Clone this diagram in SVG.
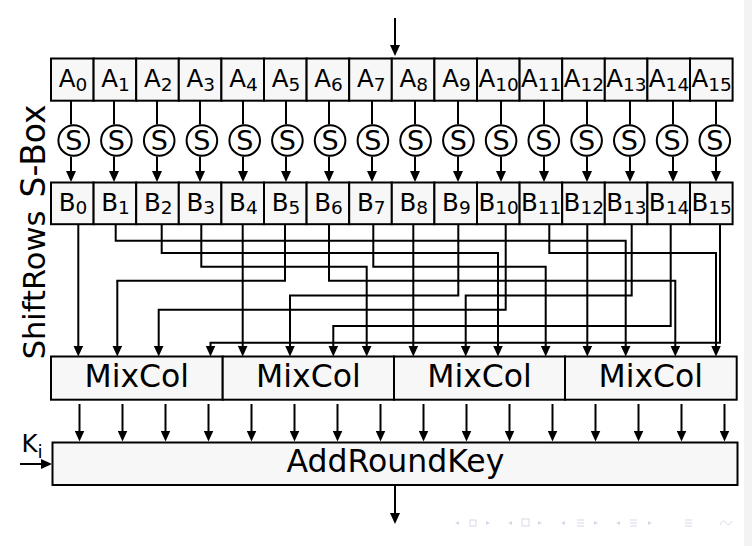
<svg xmlns="http://www.w3.org/2000/svg" width="752" height="546" viewBox="0 0 752 546">
<style>
.box{fill:#f7f7f7;stroke:#000;stroke-width:2}
.cir{fill:#fff;stroke:#000;stroke-width:2}
.ln{fill:none;stroke:#000;stroke-width:2}
.lbl{font-family:"DejaVu Sans",sans-serif;font-size:24.5px;text-anchor:middle;fill:#000}
.sub{font-size:18.5px}
.s{font-family:"DejaVu Sans",sans-serif;font-size:27px;text-anchor:middle;fill:#000}
.big{font-family:"DejaVu Sans",sans-serif;font-size:31.5px;text-anchor:middle;fill:#000}
.nav{fill:#d8d8ea}
</style>
<defs>
<marker id="ah" viewBox="0 0 11 10" refX="6" refY="5" markerWidth="11" markerHeight="10" markerUnits="userSpaceOnUse" orient="auto">
<path d="M0,0 L11,5 L0,10 z" fill="#000"/>
</marker>
</defs>
<rect x="0" y="0" width="752" height="546" fill="#fff"/>
<rect x="744" y="0" width="8" height="546" fill="#f3f3f3"/>

<text class="big" style="font-size:33px" transform="translate(45,151) rotate(-90)">S-Box</text>
<text class="big" style="font-size:30.5px" transform="translate(45,285) rotate(-90)">ShiftRows</text>

<g id="rowA">
<rect class="box" x="51" y="58.5" width="42.6" height="42.2"/>
<rect class="box" x="93.6" y="58.5" width="42.6" height="42.2"/>
<rect class="box" x="136.2" y="58.5" width="42.6" height="42.2"/>
<rect class="box" x="178.8" y="58.5" width="42.6" height="42.2"/>
<rect class="box" x="221.4" y="58.5" width="42.6" height="42.2"/>
<rect class="box" x="264" y="58.5" width="42.6" height="42.2"/>
<rect class="box" x="306.6" y="58.5" width="42.6" height="42.2"/>
<rect class="box" x="349.2" y="58.5" width="42.6" height="42.2"/>
<rect class="box" x="391.8" y="58.5" width="42.6" height="42.2"/>
<rect class="box" x="434.4" y="58.5" width="42.6" height="42.2"/>
<rect class="box" x="477" y="58.5" width="42.6" height="42.2"/>
<rect class="box" x="519.6" y="58.5" width="42.6" height="42.2"/>
<rect class="box" x="562.2" y="58.5" width="42.6" height="42.2"/>
<rect class="box" x="604.8" y="58.5" width="42.6" height="42.2"/>
<rect class="box" x="647.4" y="58.5" width="42.6" height="42.2"/>
<rect class="box" x="690" y="58.5" width="42.6" height="42.2"/>
<text class="lbl" x="73" y="87.3">A<tspan class="sub" dy="3.4">0</tspan></text>
<text class="lbl" x="115.6" y="87.3">A<tspan class="sub" dy="3.4">1</tspan></text>
<text class="lbl" x="158.2" y="87.3">A<tspan class="sub" dy="3.4">2</tspan></text>
<text class="lbl" x="200.8" y="87.3">A<tspan class="sub" dy="3.4">3</tspan></text>
<text class="lbl" x="243.4" y="87.3">A<tspan class="sub" dy="3.4">4</tspan></text>
<text class="lbl" x="286" y="87.3">A<tspan class="sub" dy="3.4">5</tspan></text>
<text class="lbl" x="328.6" y="87.3">A<tspan class="sub" dy="3.4">6</tspan></text>
<text class="lbl" x="371.2" y="87.3">A<tspan class="sub" dy="3.4">7</tspan></text>
<text class="lbl" x="413.8" y="87.3">A<tspan class="sub" dy="3.4">8</tspan></text>
<text class="lbl" x="456.4" y="87.3">A<tspan class="sub" dy="3.4">9</tspan></text>
<text class="lbl" x="498.6" y="87.3">A<tspan class="sub" dy="3.4">10</tspan></text>
<text class="lbl" x="541.2" y="87.3">A<tspan class="sub" dy="3.4">11</tspan></text>
<text class="lbl" x="583.8" y="87.3">A<tspan class="sub" dy="3.4">12</tspan></text>
<text class="lbl" x="626.4" y="87.3">A<tspan class="sub" dy="3.4">13</tspan></text>
<text class="lbl" x="669" y="87.3">A<tspan class="sub" dy="3.4">14</tspan></text>
<text class="lbl" x="711.6" y="87.3">A<tspan class="sub" dy="3.4">15</tspan></text>
</g>

<g id="rowB">
<rect class="box" x="51" y="182.5" width="42.6" height="41.7"/>
<rect class="box" x="93.6" y="182.5" width="42.6" height="41.7"/>
<rect class="box" x="136.2" y="182.5" width="42.6" height="41.7"/>
<rect class="box" x="178.8" y="182.5" width="42.6" height="41.7"/>
<rect class="box" x="221.4" y="182.5" width="42.6" height="41.7"/>
<rect class="box" x="264" y="182.5" width="42.6" height="41.7"/>
<rect class="box" x="306.6" y="182.5" width="42.6" height="41.7"/>
<rect class="box" x="349.2" y="182.5" width="42.6" height="41.7"/>
<rect class="box" x="391.8" y="182.5" width="42.6" height="41.7"/>
<rect class="box" x="434.4" y="182.5" width="42.6" height="41.7"/>
<rect class="box" x="477" y="182.5" width="42.6" height="41.7"/>
<rect class="box" x="519.6" y="182.5" width="42.6" height="41.7"/>
<rect class="box" x="562.2" y="182.5" width="42.6" height="41.7"/>
<rect class="box" x="604.8" y="182.5" width="42.6" height="41.7"/>
<rect class="box" x="647.4" y="182.5" width="42.6" height="41.7"/>
<rect class="box" x="690" y="182.5" width="42.6" height="41.7"/>
<text class="lbl" x="73" y="211">B<tspan class="sub" dy="3.4">0</tspan></text>
<text class="lbl" x="115.6" y="211">B<tspan class="sub" dy="3.4">1</tspan></text>
<text class="lbl" x="158.2" y="211">B<tspan class="sub" dy="3.4">2</tspan></text>
<text class="lbl" x="200.8" y="211">B<tspan class="sub" dy="3.4">3</tspan></text>
<text class="lbl" x="243.4" y="211">B<tspan class="sub" dy="3.4">4</tspan></text>
<text class="lbl" x="286" y="211">B<tspan class="sub" dy="3.4">5</tspan></text>
<text class="lbl" x="328.6" y="211">B<tspan class="sub" dy="3.4">6</tspan></text>
<text class="lbl" x="371.2" y="211">B<tspan class="sub" dy="3.4">7</tspan></text>
<text class="lbl" x="413.8" y="211">B<tspan class="sub" dy="3.4">8</tspan></text>
<text class="lbl" x="456.4" y="211">B<tspan class="sub" dy="3.4">9</tspan></text>
<text class="lbl" x="498.6" y="211">B<tspan class="sub" dy="3.4">10</tspan></text>
<text class="lbl" x="541.2" y="211">B<tspan class="sub" dy="3.4">11</tspan></text>
<text class="lbl" x="583.8" y="211">B<tspan class="sub" dy="3.4">12</tspan></text>
<text class="lbl" x="626.4" y="211">B<tspan class="sub" dy="3.4">13</tspan></text>
<text class="lbl" x="669" y="211">B<tspan class="sub" dy="3.4">14</tspan></text>
<text class="lbl" x="711.6" y="211">B<tspan class="sub" dy="3.4">15</tspan></text>
</g>

<g id="connectors">
<path class="ln" d="M395,18 V51" marker-end="url(#ah)"/>
<path class="ln" d="M71,100.7 V124.5 M114,100.7 V124.5 M157,100.7 V124.5 M200,100.7 V124.5 M243,100.7 V124.5 M286,100.7 V124.5 M329,100.7 V124.5 M372,100.7 V124.5 M415,100.7 V124.5 M458,100.7 V124.5 M501,100.7 V124.5 M544,100.7 V124.5 M587,100.7 V124.5 M630,100.7 V124.5 M673,100.7 V124.5 M716,100.7 V124.5"/>
<path class="ln" d="M71,156.5 V177" marker-end="url(#ah)"/>
<path class="ln" d="M114,156.5 V177" marker-end="url(#ah)"/>
<path class="ln" d="M157,156.5 V177" marker-end="url(#ah)"/>
<path class="ln" d="M200,156.5 V177" marker-end="url(#ah)"/>
<path class="ln" d="M243,156.5 V177" marker-end="url(#ah)"/>
<path class="ln" d="M286,156.5 V177" marker-end="url(#ah)"/>
<path class="ln" d="M329,156.5 V177" marker-end="url(#ah)"/>
<path class="ln" d="M372,156.5 V177" marker-end="url(#ah)"/>
<path class="ln" d="M415,156.5 V177" marker-end="url(#ah)"/>
<path class="ln" d="M458,156.5 V177" marker-end="url(#ah)"/>
<path class="ln" d="M501,156.5 V177" marker-end="url(#ah)"/>
<path class="ln" d="M544,156.5 V177" marker-end="url(#ah)"/>
<path class="ln" d="M587,156.5 V177" marker-end="url(#ah)"/>
<path class="ln" d="M630,156.5 V177" marker-end="url(#ah)"/>
<path class="ln" d="M673,156.5 V177" marker-end="url(#ah)"/>
<path class="ln" d="M716,156.5 V177" marker-end="url(#ah)"/>

<path class="ln" d="M78.3,224 V351.5" marker-end="url(#ah)"/>
<path class="ln" d="M242.7,224 V351.5" marker-end="url(#ah)"/>
<path class="ln" d="M413.3,224 V351.5" marker-end="url(#ah)"/>
<path class="ln" d="M587.3,224 V351.5" marker-end="url(#ah)"/>
<path class="ln" d="M115.7,224 V240.7 H625.7 V351.5" marker-end="url(#ah)"/>
<path class="ln" d="M161.7,224 V253 H498 V351.5" marker-end="url(#ah)"/>
<path class="ln" d="M201.3,224 V266.7 H366.7 V351.5" marker-end="url(#ah)"/>
<path class="ln" d="M285,224 V280.7 H117.3 V351.5" marker-end="url(#ah)"/>
<path class="ln" d="M329,224 V280.7 H675.3 V351.5" marker-end="url(#ah)"/>
<path class="ln" d="M373.3,224 V266.7 H545.7 V351.5" marker-end="url(#ah)"/>
<path class="ln" d="M458.3,224 V295.5 H290 V351.5" marker-end="url(#ah)"/>
<path class="ln" d="M505.7,224 V309.7 H158.7 V351.5" marker-end="url(#ah)"/>
<path class="ln" d="M549.3,224 V253 H716 V351.5" marker-end="url(#ah)"/>
<path class="ln" d="M631.7,224 V295.5 H465.7 V351.5" marker-end="url(#ah)"/>
<path class="ln" d="M670.7,224 V326 H333.3 V351.5" marker-end="url(#ah)"/>
<path class="ln" d="M720,224 V342.7 H210.5 V351.5" marker-end="url(#ah)"/>

<path class="ln" d="M79.5,404 V436.5" marker-end="url(#ah)"/>
<path class="ln" d="M122.5,404 V436.5" marker-end="url(#ah)"/>
<path class="ln" d="M165.5,404 V436.5" marker-end="url(#ah)"/>
<path class="ln" d="M208.5,404 V436.5" marker-end="url(#ah)"/>
<path class="ln" d="M251.5,404 V436.5" marker-end="url(#ah)"/>
<path class="ln" d="M294.5,404 V436.5" marker-end="url(#ah)"/>
<path class="ln" d="M337.5,404 V436.5" marker-end="url(#ah)"/>
<path class="ln" d="M380.5,404 V436.5" marker-end="url(#ah)"/>
<path class="ln" d="M423.5,404 V436.5" marker-end="url(#ah)"/>
<path class="ln" d="M466.5,404 V436.5" marker-end="url(#ah)"/>
<path class="ln" d="M509.5,404 V436.5" marker-end="url(#ah)"/>
<path class="ln" d="M552.5,404 V436.5" marker-end="url(#ah)"/>
<path class="ln" d="M595.5,404 V436.5" marker-end="url(#ah)"/>
<path class="ln" d="M638.5,404 V436.5" marker-end="url(#ah)"/>
<path class="ln" d="M681.5,404 V436.5" marker-end="url(#ah)"/>
<path class="ln" d="M724.5,404 V436.5" marker-end="url(#ah)"/>
<path class="ln" d="M20,464 H47" marker-end="url(#ah)"/>
<path class="ln" d="M395,486 V519" marker-end="url(#ah)"/>
</g>

<g id="sboxes">
<circle class="cir" cx="73.7" cy="140.5" r="15.3"/>
<circle class="cir" cx="116.4" cy="140.5" r="15.3"/>
<circle class="cir" cx="159.2" cy="140.5" r="15.3"/>
<circle class="cir" cx="201.9" cy="140.5" r="15.3"/>
<circle class="cir" cx="244.7" cy="140.5" r="15.3"/>
<circle class="cir" cx="287.4" cy="140.5" r="15.3"/>
<circle class="cir" cx="330.1" cy="140.5" r="15.3"/>
<circle class="cir" cx="372.9" cy="140.5" r="15.3"/>
<circle class="cir" cx="415.6" cy="140.5" r="15.3"/>
<circle class="cir" cx="458.4" cy="140.5" r="15.3"/>
<circle class="cir" cx="501.1" cy="140.5" r="15.3"/>
<circle class="cir" cx="543.8" cy="140.5" r="15.3"/>
<circle class="cir" cx="586.6" cy="140.5" r="15.3"/>
<circle class="cir" cx="629.3" cy="140.5" r="15.3"/>
<circle class="cir" cx="672.1" cy="140.5" r="15.3"/>
<circle class="cir" cx="714.8" cy="140.5" r="15.3"/>
<text class="s" x="73.7" y="150">S</text>
<text class="s" x="116.4" y="150">S</text>
<text class="s" x="159.2" y="150">S</text>
<text class="s" x="201.9" y="150">S</text>
<text class="s" x="244.7" y="150">S</text>
<text class="s" x="287.4" y="150">S</text>
<text class="s" x="330.1" y="150">S</text>
<text class="s" x="372.9" y="150">S</text>
<text class="s" x="415.6" y="150">S</text>
<text class="s" x="458.4" y="150">S</text>
<text class="s" x="501.1" y="150">S</text>
<text class="s" x="543.8" y="150">S</text>
<text class="s" x="586.6" y="150">S</text>
<text class="s" x="629.3" y="150">S</text>
<text class="s" x="672.1" y="150">S</text>
<text class="s" x="714.8" y="150">S</text>
</g>

<g id="mixcol0"><rect class="box" x="51" y="356.5" width="171.7" height="43.2"/><text class="big" x="136.8" y="386.7">MixCol</text></g>
<g id="mixcol1"><rect class="box" x="222.7" y="356.5" width="171.3" height="43.2"/><text class="big" x="308.4" y="386.7">MixCol</text></g>
<g id="mixcol2"><rect class="box" x="394" y="356.5" width="171" height="43.2"/><text class="big" x="479.5" y="386.7">MixCol</text></g>
<g id="mixcol3"><rect class="box" x="565" y="356.5" width="171.7" height="43.2"/><text class="big" x="650.8" y="386.7">MixCol</text></g>

<g id="addroundkey"><rect class="box" x="52.5" y="442.5" width="685" height="42.5"/><text class="big" x="395.5" y="471.7">AddRoundKey</text></g>

<g id="ki"><text class="lbl" x="32" y="451.7">K<tspan class="sub" dy="6">i</tspan></text></g>

<g id="nav">
<path class="nav" d="M459,521 L455,523 L459,525 z"/>
<rect x="470" y="520" width="6" height="6" fill="none" stroke="#d8d8ea" stroke-width="1"/>
<path class="nav" d="M486,521 L490,523 L486,525 z"/>
<path class="nav" d="M512,521 L508,523 L512,525 z"/>
<rect x="522" y="519" width="7" height="7" fill="none" stroke="#d8d8ea" stroke-width="1"/>
<path class="nav" d="M538,521 L542,523 L538,525 z"/>
<path class="nav" d="M565,521 L561,523 L565,525 z"/>
<path d="M577,520 H584 M577,523 H584 M577,526 H584" stroke="#d8d8ea" stroke-width="1"/>
<path class="nav" d="M594,521 L598,523 L594,525 z"/>
<path class="nav" d="M620,521 L616,523 L620,525 z"/>
<path d="M630,520 H637 M630,523 H637 M630,526 H637" stroke="#d8d8ea" stroke-width="1"/>
<path class="nav" d="M648,521 L652,523 L648,525 z"/>
<path d="M685,520 H692 M685,523 H692 M685,526 H692" stroke="#d8d8ea" stroke-width="1"/>
<path d="M720,525 Q723,518 726,523 Q729,527 732,521" fill="none" stroke="#d8d8ea" stroke-width="1"/>
</g>
</svg>
